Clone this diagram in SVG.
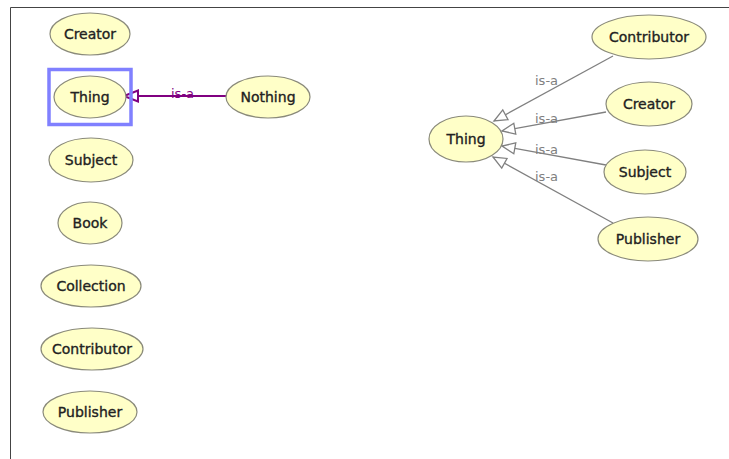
<svg xmlns="http://www.w3.org/2000/svg" width="729" height="459" viewBox="0 0 729 459">
<defs>
<style>
.n ellipse{fill:#ffffc8;stroke:#8a8a7a;stroke-width:1.2}
.n text{font-family:"DejaVu Sans",sans-serif;font-size:14px;fill:#222;stroke:#222;stroke-width:0.35;text-anchor:middle}
.lbl{font-family:"DejaVu Sans",sans-serif;font-size:13px}
.g{stroke:#808080;stroke-width:1.3;fill:none}
</style>
<marker id="tri" markerUnits="userSpaceOnUse" markerWidth="16" markerHeight="14" viewBox="-1 -7 16 14" refX="13" refY="0" orient="auto" overflow="visible">
<path d="M0,-5.5 L13,0 L0,5.5 Z" fill="#fff" stroke="#808080" stroke-width="1.3"/>
</marker>
</defs>
<rect x="0" y="0" width="729" height="459" fill="#fff"/>
<path d="M10.5,459 V7.5 H729" fill="none" stroke="#444" stroke-width="1"/>

<g id="connectors">
<line class="g" x1="613" y1="56" x2="494" y2="121" marker-end="url(#tri)"/>
<line class="g" x1="606" y1="112" x2="502" y2="131" marker-end="url(#tri)"/>
<line class="g" x1="606" y1="165" x2="502" y2="146" marker-end="url(#tri)"/>
<line class="g" x1="613" y1="223" x2="493" y2="157" marker-end="url(#tri)"/>
<text class="lbl" x="535" y="85" fill="#808080">is-a</text>
<text class="lbl" x="535" y="123" fill="#808080">is-a</text>
<text class="lbl" x="535" y="154" fill="#808080">is-a</text>
<text class="lbl" x="535" y="181" fill="#808080">is-a</text>
<line x1="138" y1="96" x2="227" y2="96" stroke="#800080" stroke-width="2"/>
<path d="M124,96 L138,90.5 L138,101.5 Z" fill="#fff" stroke="#800080" stroke-width="2"/>
<text class="lbl" x="171" y="98" fill="#800080">is-a</text>
</g>

<g id="left-creator" class="n"><ellipse cx="90" cy="34" rx="40" ry="21"/><text x="90" y="39">Creator</text></g>
<g id="left-thing" class="n"><ellipse cx="90" cy="97" rx="36" ry="21"/><text x="90" y="102">Thing</text></g>
<g id="left-nothing" class="n"><ellipse cx="268" cy="97" rx="42" ry="21"/><text x="268" y="102">Nothing</text></g>
<g id="left-subject" class="n"><ellipse cx="91" cy="160" rx="42" ry="22"/><text x="91" y="165">Subject</text></g>
<g id="left-book" class="n"><ellipse cx="90" cy="223" rx="32" ry="21"/><text x="90" y="228">Book</text></g>
<g id="left-collection" class="n"><ellipse cx="91" cy="286" rx="50" ry="21"/><text x="91" y="291">Collection</text></g>
<g id="left-contributor" class="n"><ellipse cx="92" cy="349" rx="51" ry="21"/><text x="92" y="354">Contributor</text></g>
<g id="left-publisher" class="n"><ellipse cx="90" cy="412" rx="47" ry="21"/><text x="90" y="417">Publisher</text></g>

<g id="selection"><rect x="49" y="69.5" width="82" height="55" fill="none" stroke="#8080ff" stroke-width="3.5"/></g>

<g id="right-thing" class="n"><ellipse cx="466" cy="139" rx="37" ry="23"/><text x="466" y="144">Thing</text></g>
<g id="right-contributor" class="n"><ellipse cx="649" cy="37" rx="57" ry="22"/><text x="649" y="42">Contributor</text></g>
<g id="right-creator" class="n"><ellipse cx="649" cy="104" rx="43" ry="22"/><text x="649" y="109">Creator</text></g>
<g id="right-subject" class="n"><ellipse cx="645" cy="172" rx="41" ry="22"/><text x="645" y="177">Subject</text></g>
<g id="right-publisher" class="n"><ellipse cx="648" cy="239" rx="50" ry="22"/><text x="648" y="244">Publisher</text></g>
</svg>
